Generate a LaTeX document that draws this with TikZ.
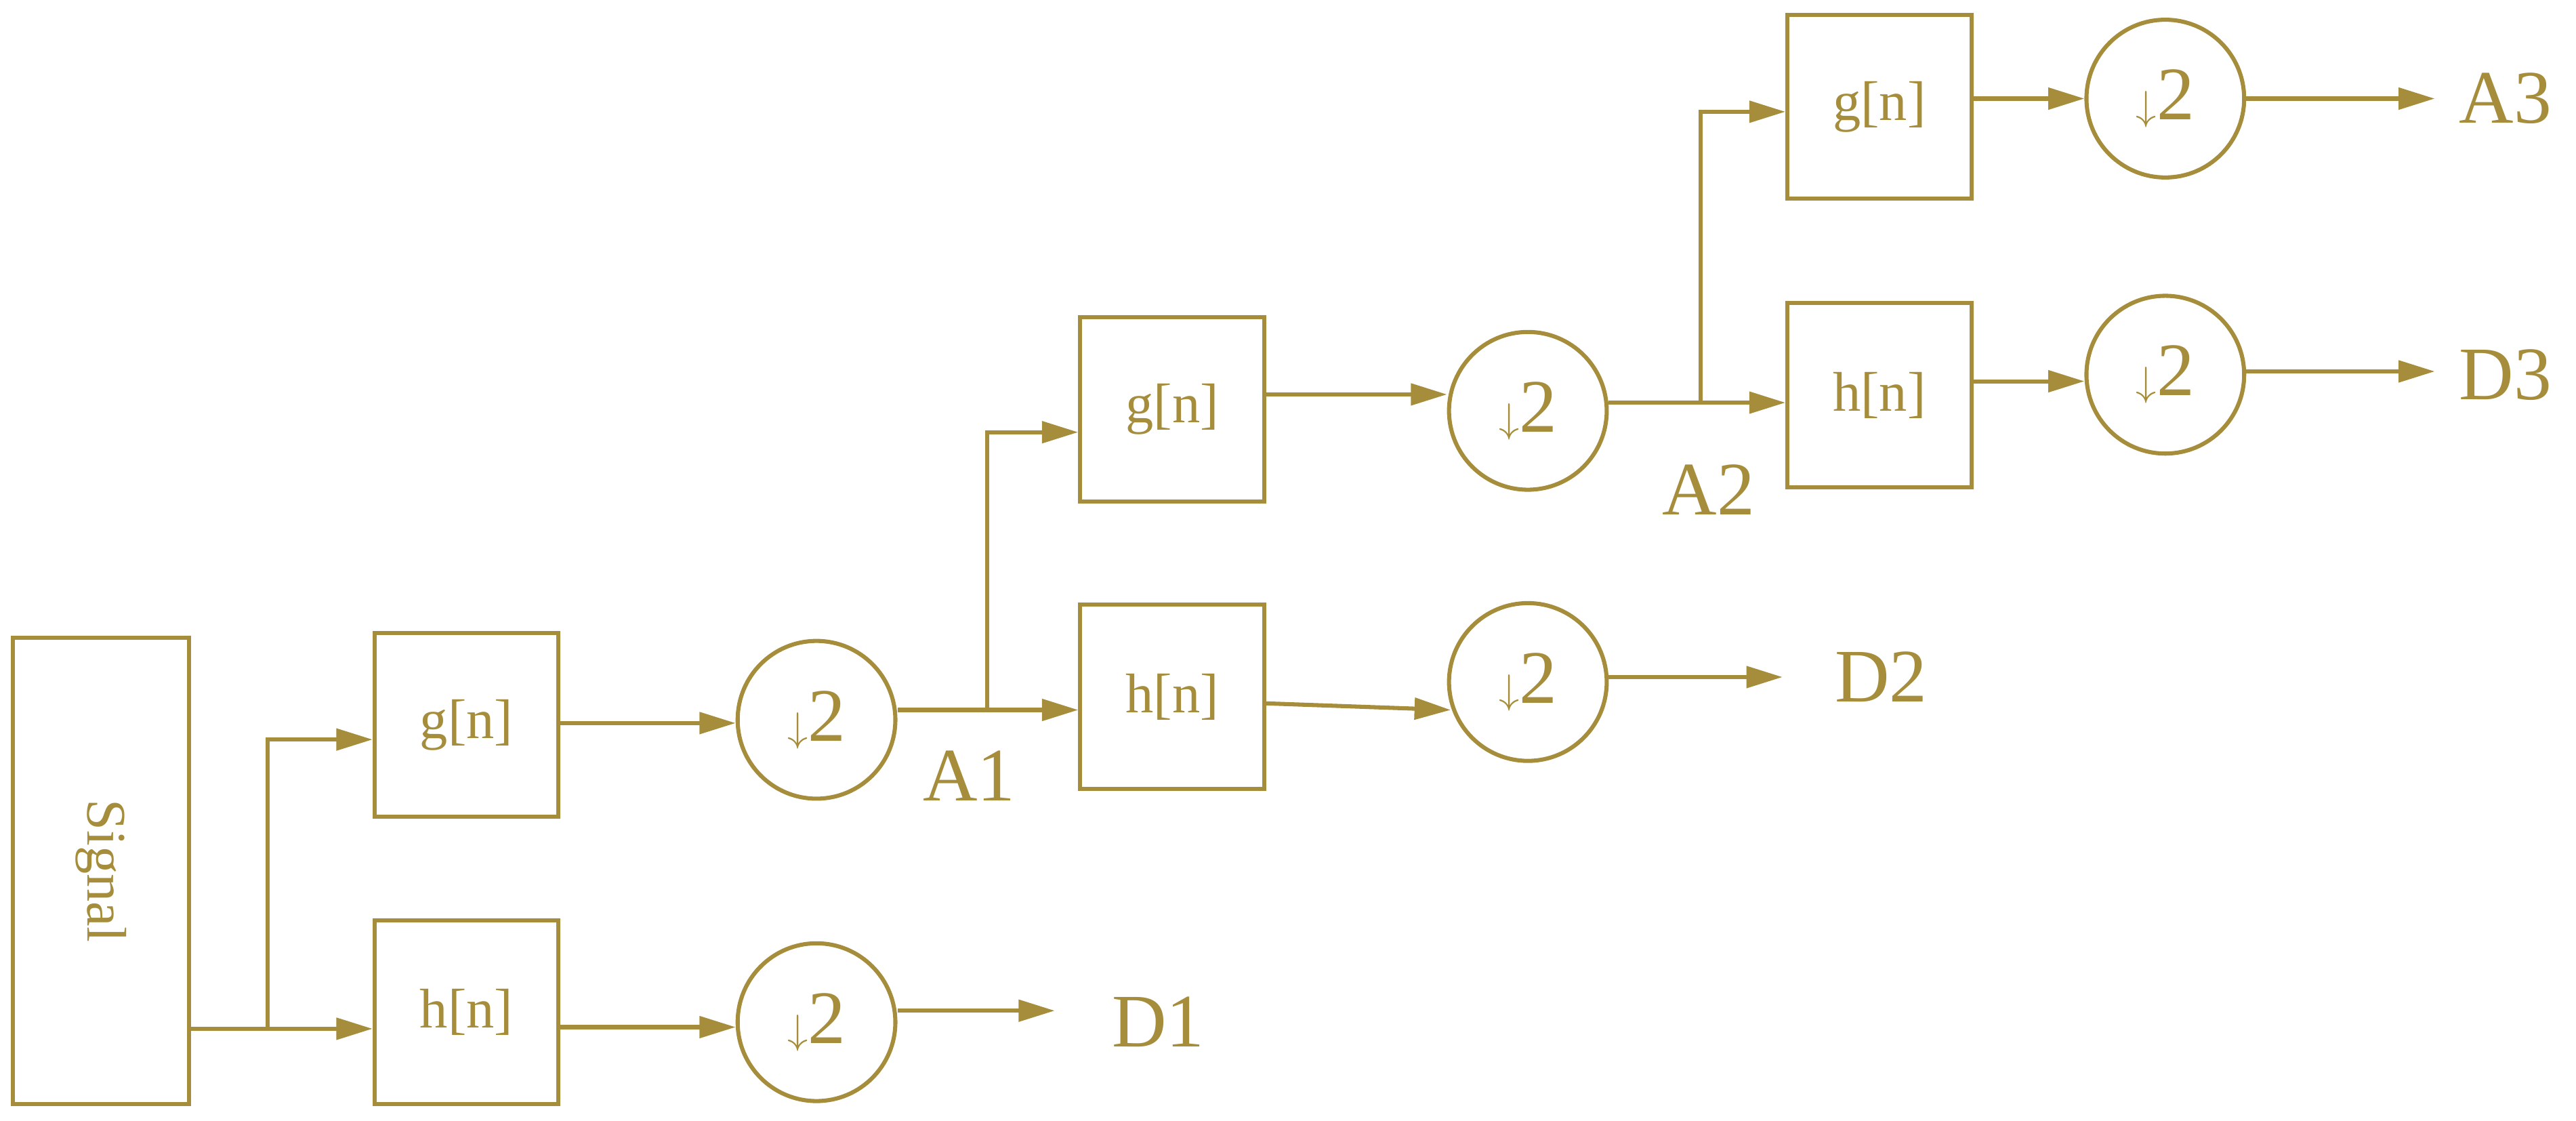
\documentclass[tikz,border=0pt]{standalone}
\usepackage{fontspec}
\setmainfont{Liberation Serif}
\usetikzlibrary{arrows.meta}
\definecolor{ol}{HTML}{A58D3C}
\begin{document}
\begin{tikzpicture}[x=1pt,y=-1pt,line width=2.5pt,draw=ol,text=ol,
  box/.style={draw=ol,minimum width=112pt,minimum height=112pt,inner sep=0,font=\fontsize{34}{40}\selectfont},
  dn/.style={draw=ol,circle,minimum size=96pt,inner sep=0,font=\fontsize{46}{50}\selectfont},
  lab/.style={font=\fontsize{46}{50}\selectfont,text=ol},
  arr/.style={draw=ol,-{Triangle[length=22pt,width=13pt]}}]
\useasboundingbox (0,0) rectangle (1568,682);
\node[draw=ol,minimum width=107pt,minimum height=284pt,inner sep=0] (sig) at (61.5,530) {};
\node[rotate=-90,font=\fontsize{34}{40}\selectfont] at (sig) {Signal};
\node[box] (g1) at (284,441) {g[n]};
\node[box] (h1) at (284,616) {h[n]};
\node[dn] (c1) at (497,438) {$\downarrow$2};
\node[dn] (c1b) at (497,622) {$\downarrow$2};
\node[box] (g2) at (713.5,249) {g[n]};
\node[box] (h2) at (713.5,424) {h[n]};
\node[dn] (c2) at (930,250) {$\downarrow$2};
\node[dn] (c2b) at (930,415) {$\downarrow$2};
\node[box] (g3) at (1144,65) {g[n]};
\node[box] (h3) at (1144,240.5) {h[n]};
\node[dn] (c3) at (1318,60) {$\downarrow$2};
\node[dn] (c3b) at (1318,228) {$\downarrow$2};
\coordinate (s0) at (163,626);
\coordinate (b1) at (601,432);
\coordinate (b2) at (1035,245);
\coordinate (eD1) at (642,615);
\coordinate (eD2) at (1085,412);
\coordinate (eA3) at (1482,60);
\coordinate (eD3) at (1482,226);
\node[lab] (D1) at (705,622) {D1};
\node[lab] (D2) at (1145,412) {D2};
\node[lab] (A3) at (1525,60) {A3};
\node[lab] (D3) at (1525,228) {D3};
\node[lab] (A1) at (590,472) {A1};
\node[lab] (A2) at (1040,298) {A2};
\draw (sig.east|-s0) -- (s0);
\draw[arr] (s0) -- (h1.west|-s0);
\draw[arr] (s0) |- (g1.west|-0,450);
\draw[arr] (g1.east|-0,440) -- (c1.west|-0,440);
\draw[arr] (h1.east|-0,625) -- (c1b.west|-0,625);
\draw[arr] (c1b.east|-0,615) -- (eD1);
\draw (c1.east|-b1) -- (b1);
\draw[arr] (b1) -- (h2.west|-b1);
\draw[arr] (b1) |- (g2.west|-0,263);
\draw[arr] (g2.east|-0,240) -- (c2.west|-0,240);
\draw[arr] (h2.east|-0,428) -- (883,432);
\draw[arr] (c2b.east|-0,412) -- (eD2);
\draw (c2.east|-b2) -- (b2);
\draw[arr] (b2) -- (h3.west|-b2);
\draw[arr] (b2) |- (g3.west|-0,68);
\draw[arr] (g3.east|-0,60) -- (c3.west|-0,60);
\draw[arr] (c3.east|-0,60) -- (eA3);
\draw[arr] (h3.east|-0,232) -- (c3b.west|-0,232);
\draw[arr] (c3b.east|-0,226) -- (eD3);
\end{tikzpicture}
\end{document}
